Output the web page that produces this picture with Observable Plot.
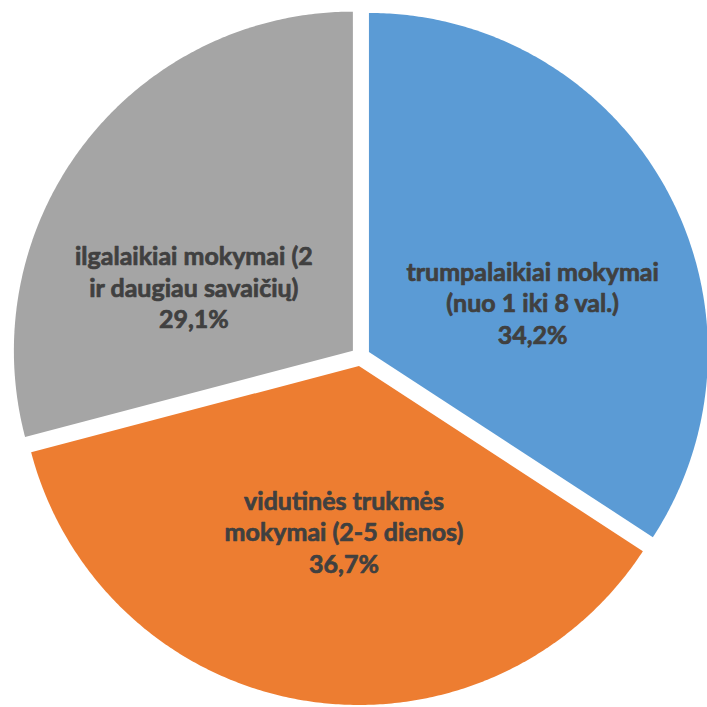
<!DOCTYPE html>
<html><head><meta charset="utf-8">
<script src="https://cdn.jsdelivr.net/npm/d3@7"></script>
<script src="https://cdn.jsdelivr.net/npm/@observablehq/plot@0.6"></script>
<style>body{margin:0;background:#fff} svg{display:block}</style>
</head><body><div id="chart"></div>
<script>
const categories = [
  "trumpalaikiai mokymai (nuo 1 iki 8 val.)",
  "vidutinės trukmės mokymai (2-5 dienos)",
  "ilgalaikiai mokymai (2 ir daugiau savaičių)"
];
const labelLines = [
  "trumpalaikiai mokymai\n(nuo 1 iki 8 val.)",
  "vidutinės trukmės\nmokymai (2-5 dienos)",
  "ilgalaikiai mokymai (2\nir daugiau savaičių)"
];
const values = [34.2, 36.7, 29.1];
const percentLabels = ["34,2%", "36,7%", "29,1%"];
const colors = ["#5B9BD5", "#ED7D31", "#A5A5A5"];

const W = 707, H = 707;
const cx = 360, cy = 356, R = 339, explode = 9.6, labelR = 170;
const total = d3.sum(values);
let acc = 0;
const slices = values.map((v, i) => {
  const a0 = acc / total * 2 * Math.PI; acc += v;
  const a1 = acc / total * 2 * Math.PI;
  return {i, cat: categories[i], a0, a1, mid: (a0 + a1) / 2};
});
const pts = [];
const labels = [];
for (const s of slices) {
  const ox = explode * Math.sin(s.mid), oy = -explode * Math.cos(s.mid);
  pts.push({cat: s.cat, x: ox, y: oy});
  const n = Math.ceil((s.a1 - s.a0) / (Math.PI / 360));
  for (let k = 0; k <= n; k++) {
    const a = s.a0 + (s.a1 - s.a0) * k / n;
    pts.push({cat: s.cat, x: ox + R * Math.sin(a), y: oy - R * Math.cos(a)});
  }
  const axis = Math.round(s.mid / (Math.PI / 2)) * (Math.PI / 2);
  const t = s.mid - 0.45 * (s.mid - axis);
  labels.push({
    cat: s.cat,
    x: ox + labelR * Math.sin(t),
    y: oy - labelR * Math.cos(t) - 4,
    text: labelLines[s.i] + "\n" + percentLabels[s.i]
  });
}

const chart = Plot.plot({
  width: W, height: H,
  margin: 0,
  x: {domain: [-cx, W - cx], range: [0, W], axis: null},
  y: {domain: [-cy, H - cy], range: [0, H], axis: null},
  color: {domain: categories, range: colors},
  marks: [
    Plot.line(pts, {x: "x", y: "y", z: "cat", fill: "cat", stroke: null, curve: "linear-closed"}),
    Plot.text(labels, {x: "x", y: "y", text: "text", fill: "#404040", stroke: "#404040", strokeWidth: 0.7,
      fontSize: 25, fontWeight: "bold", fontFamily: "Lato", lineHeight: 1.26, textAnchor: "middle"})
  ]
});
document.getElementById("chart").appendChild(chart);
</script>
</body></html>
